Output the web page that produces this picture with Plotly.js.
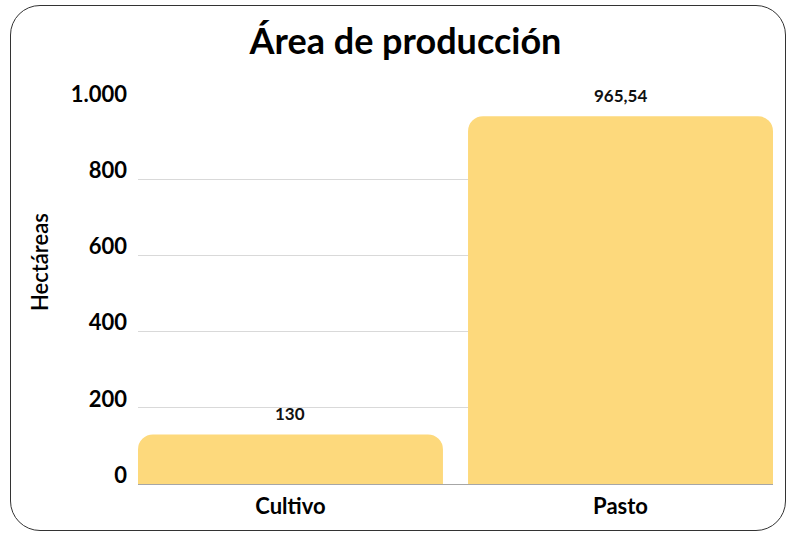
<!DOCTYPE html>
<html>
<head>
<meta charset="utf-8">
<script src="https://cdn.plot.ly/plotly-3.0.1.min.js"></script>
<style>
  html, body { margin: 0; padding: 0; background: #fff; }
  #wrap { position: relative; width: 792px; height: 535px; }
  #chart { width: 792px; height: 535px; }
  #frame { position: absolute; left: 10px; top: 5px; width: 776px; height: 526px;
           border: 1.5px solid #333; border-radius: 30px; pointer-events: none; box-sizing: border-box; }
</style>
</head>
<body>
<div id="wrap">
  <div id="chart"></div>
  <div id="frame"></div>
</div>
<script>
const categories = ["Cultivo", "Pasto"];
const values = [130, 965.54];
const valueLabels = ["130", "965,54"];
const tickValues = [0, 200, 400, 600, 800, 1000];
const yAxisTitle = "Hectáreas";

const FONT = "Lato, 'Open Sans', sans-serif";

const trace = {
  type: "bar",
  x: categories,
  y: values,
  marker: { color: "#FDD97C", cornerradius: 15 },
  hoverinfo: "none"
};

const annotations = categories.map((c, i) => ({
  x: c, y: values[i], xref: "x", yref: "y",
  text: valueLabels[i], showarrow: false,
  yanchor: "bottom", yshift: 8,
  font: { family: FONT, size: 17, color: "#111", weight: "bold" }
}));

annotations.push({
  text: yAxisTitle, textangle: -90, showarrow: false,
  xref: "paper", yref: "paper", x: -0.154, y: 0.583,
  xanchor: "center", yanchor: "middle",
  font: { family: FONT, size: 22, color: "#000", weight: 600 }
});

const layout = {
  width: 792, height: 535,
  margin: { l: 138, r: 19, t: 103, b: 51 },
  paper_bgcolor: "rgba(0,0,0,0)",
  plot_bgcolor: "#fff",
  separators: ",.",
  bargap: 0.076,
  showlegend: false,
  title: {
    text: "Área de producción",
    font: { family: FONT, size: 36, color: "#000", weight: "bold" },
    x: 0.512, xanchor: "center", xref: "container",
    y: 0.922, yanchor: "middle", yref: "container"
  },
  xaxis: {
    type: "category",
    range: [-0.462, 1.462],
    showline: true, linecolor: "#a6a6a6", linewidth: 1,
    ticks: "", showgrid: false,
    tickfont: { family: FONT, size: 22, color: "#000", weight: "bold" },
    ticklabelstandoff: 3
  },
  yaxis: {
    range: [0, 1000],
    tickvals: tickValues,
    tickformat: ",d",
    separatethousands: true,
    showgrid: true, gridcolor: "#d9d9d9", gridwidth: 1,
    zeroline: false, showline: false, ticks: "",
    tickfont: { family: FONT, size: 22, color: "#000", weight: "bold" },
    ticklabelshift: -9,
    ticklabelstandoff: 10
  },
  annotations: annotations
};

Plotly.newPlot("chart", [trace], layout, { displayModeBar: false, staticPlot: true });
</script>
</body>
</html>
